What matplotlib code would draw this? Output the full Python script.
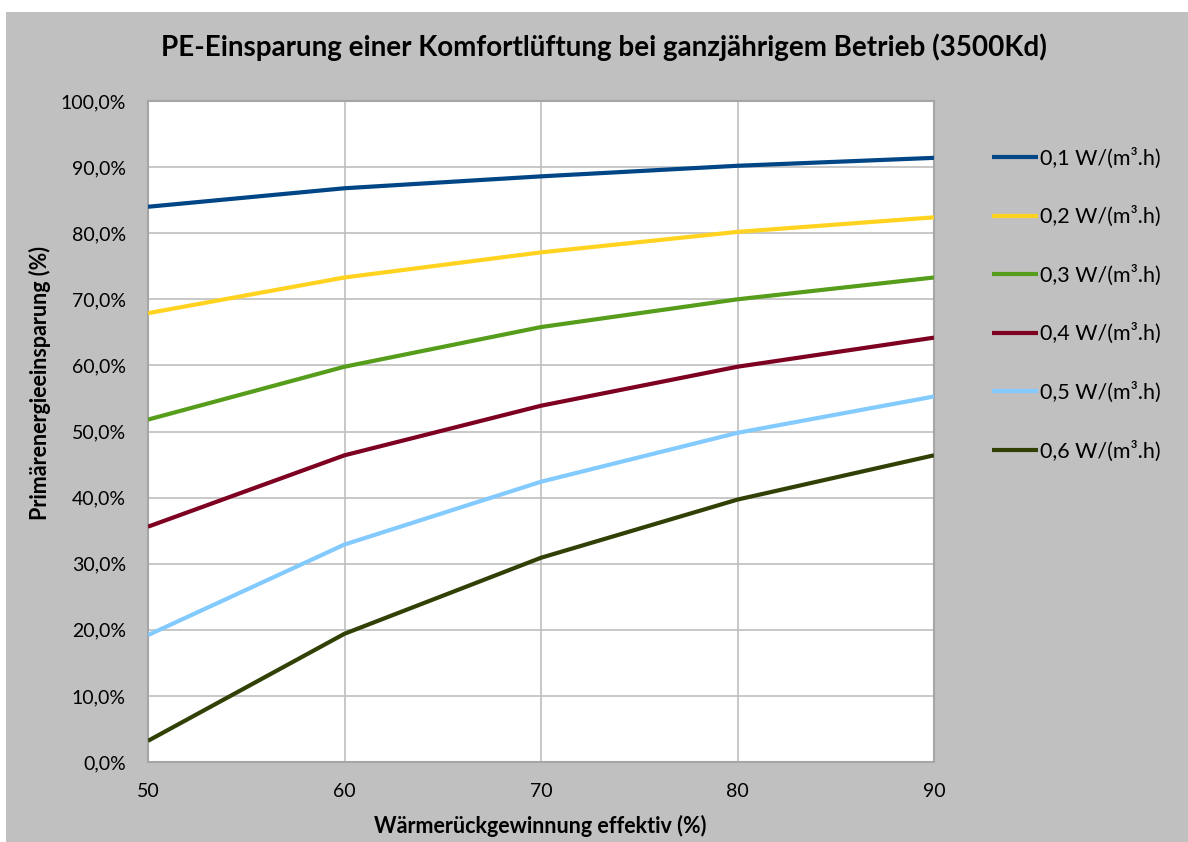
import matplotlib
matplotlib.use("Agg")
import matplotlib.pyplot as plt
from matplotlib.patches import Rectangle
from matplotlib.ticker import FuncFormatter

plt.rcParams['font.family'] = ['Lato', 'DejaVu Sans']

x_values = [50, 60, 70, 80, 90]
series_labels = ["0,1 W/(m³.h)", "0,2 W/(m³.h)", "0,3 W/(m³.h)",
                 "0,4 W/(m³.h)", "0,5 W/(m³.h)", "0,6 W/(m³.h)"]
s01 = [84.0, 86.8, 88.6, 90.2, 91.4]
s02 = [67.9, 73.3, 77.1, 80.2, 82.4]
s03 = [51.8, 59.8, 65.8, 70.0, 73.3]
s04 = [35.6, 46.4, 53.9, 59.8, 64.2]
s05 = [19.2, 32.9, 42.4, 49.8, 55.3]
s06 = [3.2, 19.4, 30.9, 39.7, 46.4]
series_values = [s01, s02, s03, s04, s05, s06]
colors = ["#004586", "#ffd320", "#579d1c", "#7e0021", "#83caff", "#314004"]
y_ticks = [0, 10, 20, 30, 40, 50, 60, 70, 80, 90, 100]

W, H = 1188, 842
fig = plt.figure(figsize=(W / 100, H / 100), dpi=100, facecolor="white")
fig.patches.append(Rectangle((6 / W, 0), 1 - 6 / W, (H - 12) / H,
                             transform=fig.transFigure, facecolor="#c0c0c0",
                             edgecolor="none", zorder=-10))

ax = fig.add_axes([148 / W, (H - 762) / H, (934 - 148) / W, (762 - 101) / H])
ax.set_facecolor("white")
for yv, lab, c in zip(series_values, series_labels, colors):
    ax.plot(x_values, yv, color=c, lw=3, label=lab, solid_capstyle="butt", zorder=3)

ax.set_xlim(50, 90)
ax.set_ylim(0, 100)
ax.set_xticks(x_values)
ax.set_yticks(y_ticks)
ax.yaxis.set_major_formatter(FuncFormatter(lambda v, p: f"{v:.1f}%".replace(".", ",")))
ax.grid(True, color="#bfbfbf", lw=1.2, zorder=0)
ax.tick_params(length=0, labelsize=14, colors="#000000")
ax.tick_params(axis="x", pad=15)
ax.tick_params(axis="y", pad=16)
for sp in ax.spines.values():
    sp.set_color("#a6a6a6")
    sp.set_linewidth(1.5)

fig.text(604 / W, 1 - 47 / H, "PE-Einsparung einer Komfortlüftung bei ganzjährigem Betrieb (3500Kd)",
         ha="center", va="center", fontsize=20, fontweight="bold")
fig.text(540 / W, 1 - 826 / H, "Wärmerückgewinnung effektiv (%)",
         ha="center", va="center", fontsize=15.5, fontweight="bold")
fig.text(40 / W, 1 - 383 / H, "Primärenergieeinsparung (%)",
         ha="center", va="center", rotation=90, fontsize=15.5, fontweight="bold")

leg = fig.legend(loc="upper left", bbox_to_anchor=(973 / W, 1 - 128 / H),
                 frameon=False, fontsize=15.5, handlelength=2.1, handletextpad=0.1,
                 labelspacing=1.74)

fig.savefig("out.png", dpi=100, facecolor="white")
